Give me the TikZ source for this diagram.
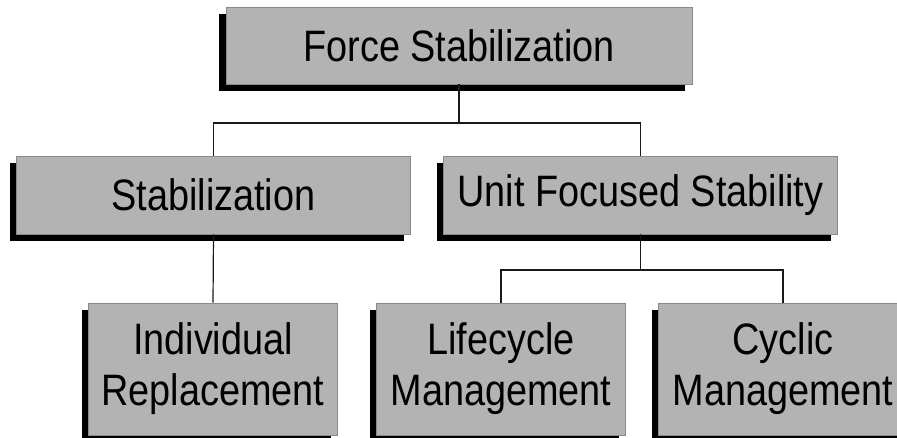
\documentclass[tikz,border=0pt]{standalone}
\usepackage{fontspec}
\newfontfamily\chartfont{Liberation Sans}[FakeStretch=0.86]
\usetikzlibrary{shadows}
\definecolor{boxgray}{HTML}{B3B3B3}
\definecolor{rimgray}{HTML}{8A8A8A}

\begin{document}
\begin{tikzpicture}[x=1pt,y=-1pt,
  unit/.style={draw=rimgray,line width=0.8pt,fill=boxgray,inner sep=0pt,
    align=center,font=\chartfont\fontsize{44}{51}\selectfont,
    drop shadow={shadow xshift=-7pt,shadow yshift=-7pt,fill=black,opacity=1}},
  wide/.style={unit,minimum width=394pt,minimum height=78pt},
  tall/.style={unit,minimum width=249pt,minimum height=132pt},
  link/.style={draw=black!90,line width=1.2pt}]
  \clip (0,0) rectangle (897,438);
  \node[unit,minimum width=466pt,minimum height=77pt] (force) at (459,45.5) {Force Stabilization};
  \node[wide] (stab) at (213.5,195) {Stabilization};
  \node[wide] (ufs) at (640.5,195) {Unit Focused Stability};
  \node[tall] (indiv) at (213,369) {Individual\\Replacement};
  \node[tall] (life) at (501,369) {Lifecycle\\Management};
  \node[tall] (cyc) at (783,369) {Cyclic\\Management};
  \coordinate (top-split) at (459,123);
  \coordinate (ufs-split) at (640.5,270);
  \draw[link] (force.south) -- (top-split);
  \draw[link] (stab.north) |- (top-split) -| (ufs.north);
  \draw[link] (stab.south) -- (indiv.north);
  \draw[link] (ufs.south) -- (ufs-split);
  \draw[link] (life.north) |- (ufs-split) -| (cyc.north);
\end{tikzpicture}
\end{document}
